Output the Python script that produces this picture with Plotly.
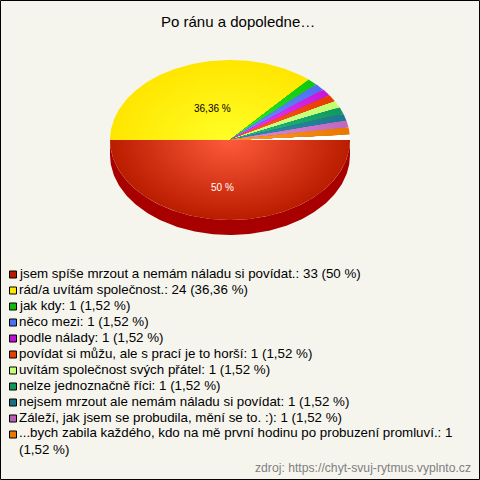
import plotly.graph_objects as go
import numpy as np

categories = [
    "jsem spíše mrzout a nemám náladu si povídat.",
    "rád/a uvítám společnost.",
    "jak kdy",
    "něco mezi",
    "podle nálady",
    "povídat si můžu, ale s prací je to horší",
    "uvítám společnost svých přátel",
    "nelze jednoznačně říci",
    "nejsem mrzout ale nemám náladu si povídat",
    "Záleží, jak jsem se probudila, mění se to. :)",
    "...bych zabila každého, kdo na mě první hodinu po probuzení promluví.",
]
values = [33, 24, 1, 1, 1, 1, 1, 1, 1, 1, 1]
percents = ["50", "36,36", "1,52", "1,52", "1,52", "1,52", "1,52", "1,52", "1,52", "1,52", "1,52"]
center_colors = ["#ff5c3c", "#ffff28", "#30f030", "#7090ff", "#f040ff", "#ff6030", "#d8ff90", "#30c080", "#3090a8", "#e090e0", "#ffa030"]
edge_colors = ["#bb1d00", "#ffe600", "#10c810", "#5070f0", "#c818d8", "#e83c00", "#c0ff70", "#109860", "#207890", "#c068c0", "#e87800"]
legend_colors = ["#b81c00", "#ffe800", "#10b810", "#4870f0", "#c010d0", "#e04000", "#c8ff78", "#109858", "#187088", "#b860b8", "#e87800"]
title = "Po ránu a dopoledne…"
source = "zdroj: https://chyt-svuj-rytmus.vyplnto.cz"

BG = "#f5f5ee"
CX, CY, RX, RY, DEPTH = 230, 140, 120, 80, 15
RINGS = 40
total = sum(values)

def hex2rgb(h):
    return np.array([int(h[i:i + 2], 16) for i in (1, 3, 5)], float)

def mix(a, b, t):
    c = hex2rgb(a) * (1 - t) + hex2rgb(b) * t
    return "rgb(%d,%d,%d)" % tuple(np.round(c))

def wedge(a0, a1, r=1.0):
    # angles clockwise on screen, degrees, from the +x direction
    t = np.radians(np.linspace(a0, a1, max(4, int(abs(a1 - a0)) + 2)))
    xs = np.r_[CX, CX + RX * r * np.cos(t), CX]
    ys = np.r_[CY, CY + RY * r * np.sin(t), CY]
    return xs, ys

def poly(xs, ys, color):
    return go.Scatter(x=xs, y=ys, mode="lines", fill="toself", fillcolor=color,
                      line=dict(width=0, color=color), hoverinfo="skip", showlegend=False)

fig = go.Figure()

# side of the pie (front half only)
t = np.radians(np.linspace(0, 180, 181))
sx = np.r_[CX + RX * np.cos(t), (CX + RX * np.cos(t))[::-1]]
sy = np.r_[CY + RY * np.sin(t), (CY + DEPTH + RY * np.sin(t))[::-1]]
fig.add_trace(poly(sx, sy, "#a80000"))

# whitish base visible where rounded sweeps leave a gap
xs, ys = wedge(-6, 0)
fig.add_trace(poly(xs, ys, "#ffffff"))

# slices: rounded whole-degree sweeps, clockwise from the +x axis
start = 0.0
for v, cc, ec in zip(values, center_colors, edge_colors):
    sweep = round(360 * v / total)
    for i in range(RINGS, 0, -1):
        r = i / RINGS
        xs, ys = wedge(start, start + sweep, r)
        fig.add_trace(poly(xs, ys, mix(cc, ec, r)))
    start += sweep

ann = [
    dict(x=238, y=21, text=title, font=dict(size=15, color="#000000")),
    dict(x=212.5, y=108, text=percents[1] + " %", font=dict(size=10, color="#000000")),
    dict(x=222.5, y=187, text=percents[0] + " %", font=dict(size=10, color="#ffffff")),
]
shapes = []
LEFT, TOP, STEP = 16.7, 274.5, 16
for i, (c, v, p, col) in enumerate(zip(categories, values, percents, legend_colors)):
    y = TOP + i * STEP
    shapes.append(dict(type="rect", x0=9.5, x1=16.5, y0=y - 3.5, y1=y + 3.5,
                       fillcolor=col, line=dict(color="#000000", width=1)))
    label = f"{c}: {v} ({p} %)"
    last = i == len(categories) - 1
    if last:
        label = f"{c}: {v}<br>({p} %)"
    ann.append(dict(x=LEFT, y=y - 1.5, yanchor="top" if last else "middle",
                    yshift=10 if last else 0,
                    xanchor="left", align="left", text=label,
                    font=dict(size=13.33, color="#000000")))
ann.append(dict(x=472.5, y=468, xanchor="right", text=source, font=dict(size=12.2, color="#808080")))
for a in ann:
    a.setdefault("xanchor", "center")
    a.setdefault("yanchor", "middle")
    a.update(showarrow=False, xref="x", yref="y")

shapes.append(dict(type="rect", x0=0.5, x1=479.5, y0=0.5, y1=479.5,
                   line=dict(color="#000000", width=1), fillcolor="rgba(0,0,0,0)"))

fig.update_layout(
    width=480, height=480, margin=dict(l=0, r=0, t=0, b=0),
    paper_bgcolor=BG, plot_bgcolor=BG, showlegend=False,
    font=dict(family="Liberation Sans, Arial, sans-serif"),
    xaxis=dict(range=[0, 480], visible=False, fixedrange=True),
    yaxis=dict(range=[480, 0], visible=False, fixedrange=True),
    annotations=ann, shapes=shapes,
)
fig.write_html("out.html", config=dict(displayModeBar=False),
               post_script="document.body.style.margin='0';document.documentElement.style.overflow='hidden';")
